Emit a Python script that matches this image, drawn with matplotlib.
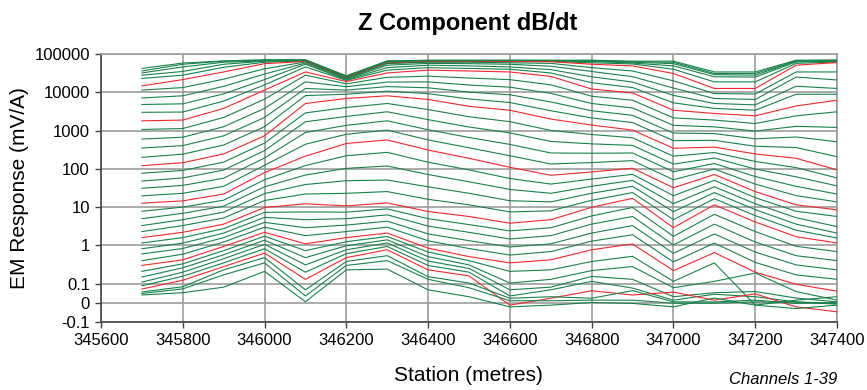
import matplotlib
matplotlib.use("Agg")

import matplotlib.pyplot as plt
from matplotlib.ticker import FixedLocator, FixedFormatter, NullLocator

plt.rcParams["font.family"] = ["Liberation Sans", "DejaVu Sans"]

# -----------------------------
# DATA  (EM response, mV/A, one list per channel)
# -----------------------------
stations = [345700, 345800, 345900, 346000, 346100, 346200, 346300, 346400, 346500,
            346600, 346700, 346800, 346900, 347000, 347100, 347200, 347300, 347400]

ch01 = [42000, 58000, 66000, 71000, 71000, 27000, 66000, 69000, 69000, 69000, 69000, 69000, 65000, 65000, 34000, 34000, 69000, 70000]
ch02 = [36000, 54000, 65000, 69000, 69000, 26000, 65000, 68000, 68000, 68000, 68000, 67000, 63000, 61000, 31000, 31000, 66000, 68000]
ch03 = [32000, 46000, 61000, 66000, 68000, 25800, 64000, 66000, 66000, 66000, 66000, 66000, 61000, 56000, 29000, 28000, 65000, 66000]
ch04 = [28000, 35000, 54000, 65000, 67000, 25200, 62000, 65000, 65000, 65000, 65000, 64000, 58000, 49000, 25500, 25000, 62000, 64000]
ch05 = [23000, 28000, 45000, 61000, 66000, 24400, 60000, 64000, 64000, 64000, 64000, 59000, 55000, 40000, 18700, 18700, 57000, 62000]
ch06 = [14700, 21500, 34000, 56000, 64000, 23700, 58000, 63000, 63000, 63000, 63000, 54000, 49000, 31000, 12600, 12600, 51000, 60000]
ch07 = [11400, 13300, 22000, 41000, 62000, 23000, 56000, 61000, 61000, 59000, 57000, 44000, 36000, 19900, 9300, 9000, 34000, 34000]
ch08 = [7100, 8100, 14300, 30000, 58000, 22200, 51000, 57000, 56000, 54000, 48000, 35000, 25600, 12900, 6900, 6500, 25000, 21000]
ch09 = [4800, 5000, 9100, 21500, 54000, 21300, 44000, 51000, 49000, 46000, 39000, 25500, 18500, 8300, 5100, 4700, 14400, 12600]
ch10 = [3000, 3050, 5900, 15600, 46000, 20400, 38000, 44000, 42000, 40000, 32000, 17800, 13300, 5300, 3800, 3400, 8900, 8900]
ch11 = [1800, 1880, 3800, 11400, 34000, 19100, 32000, 38000, 36000, 34000, 26000, 12200, 9600, 3400, 2800, 2430, 4400, 6200]
ch12 = [1070, 1130, 2200, 6600, 28000, 16700, 24600, 26400, 23600, 21400, 15700, 7900, 6200, 2150, 1880, 1530, 2430, 3100]
ch13 = [600, 670, 1260, 3800, 18700, 14000, 18500, 18700, 15500, 13600, 9400, 5100, 3900, 1370, 1250, 970, 1290, 1210]
ch14 = [350, 405, 730, 2200, 12600, 11400, 14100, 13100, 10100, 8600, 5600, 3300, 2500, 860, 835, 610, 680, 510]
ch15 = [200, 242, 420, 1260, 8200, 8900, 10700, 9200, 6700, 5400, 3300, 2140, 1620, 545, 555, 390, 360, 208]
ch16 = [121, 145, 245, 730, 5100, 6900, 8100, 6500, 4300, 3400, 2000, 1390, 1030, 345, 370, 245, 189, 94]
ch17 = [77, 91, 150, 470, 2900, 4000, 5100, 3540, 2300, 1710, 1010, 790, 650, 214, 267, 156, 108, 58]
ch18 = [48, 58, 93, 300, 1700, 2340, 3100, 1930, 1240, 870, 520, 450, 410, 133, 192, 99, 62, 36]
ch19 = [31, 37, 57, 193, 890, 1370, 1800, 1050, 660, 435, 260, 256, 260, 84, 138, 63, 35, 22]
ch20 = [19.7, 23, 35, 124, 440, 800, 1030, 570, 355, 220, 134, 146, 164, 52, 99, 40, 20, 13.7]
ch21 = [12.7, 14.6, 22, 80, 215, 460, 570, 310, 189, 110, 68, 83, 104, 32, 71, 25.5, 11.5, 8.5]
ch22 = [7.8, 10, 15.2, 52, 122, 220, 270, 149, 94, 56, 40, 54, 72, 19.9, 50, 17.7, 7.8, 5.7]
ch23 = [5.0, 6.9, 10.6, 34, 69, 103, 119, 71, 46, 29, 23, 35, 50, 12.3, 34, 12.3, 5.3, 3.1]
ch24 = [3.3, 4.7, 7.4, 22.6, 39, 49, 51, 34, 23, 14.7, 13.7, 23, 35, 7.6, 24, 8.6, 3.6, 2.1]
ch25 = [2.3, 3.3, 5.2, 14.9, 22, 23, 25.5, 16, 11.5, 7.5, 8.0, 15.1, 24, 4.7, 16.6, 6.0, 2.5, 1.56]
ch26 = [1.6, 2.2, 3.6, 9.8, 12.2, 10.8, 12.9, 7.7, 5.7, 3.8, 4.7, 9.9, 17, 2.9, 11.5, 4.1, 1.69, 1.16]
ch27 = [1.16, 1.6, 2.75, 7.3, 7.5, 7.4, 9.0, 5.0, 3.5, 2.4, 2.9, 5.9, 9.8, 1.73, 6.5, 2.3, 0.95, 0.69]
ch28 = [0.82, 1.15, 2.1, 5.4, 4.7, 5.0, 6.3, 3.2, 2.2, 1.47, 1.8, 3.6, 5.7, 1.03, 3.6, 1.23, 0.54, 0.40]
ch29 = [0.60, 0.83, 1.6, 4.0, 2.9, 3.4, 4.3, 2.0, 1.33, 0.91, 1.1, 2.1, 3.3, 0.62, 2.0, 0.67, 0.31, 0.23]
ch30 = [0.40, 0.59, 1.23, 3.0, 1.8, 2.3, 3.0, 1.32, 0.83, 0.56, 0.69, 1.29, 1.9, 0.37, 1.15, 0.36, 0.17, 0.13]
ch31 = [0.30, 0.42, 0.94, 2.2, 1.1, 1.6, 2.1, 0.85, 0.51, 0.35, 0.42, 0.77, 1.09, 0.22, 0.65, 0.20, 0.097, 0.061]
ch32 = [0.21, 0.33, 0.73, 1.74, 0.73, 1.25, 1.71, 0.67, 0.40, 0.21, 0.23, 0.38, 0.52, 0.115, 0.35, -0.012, 0.014, 0.032]
ch33 = [0.15, 0.26, 0.57, 1.37, 0.48, 0.98, 1.4, 0.51, 0.31, 0.104, 0.13, 0.22, 0.28, 0.079, 0.115, 0.19, 0.059, 0.014]
ch34 = [0.11, 0.20, 0.45, 1.07, 0.31, 0.77, 1.16, 0.39, 0.25, 0.068, 0.082, 0.155, 0.13, 0.032, 0.053, 0.059, 0.025, 0.005]
ch35 = [0.089, 0.157, 0.35, 0.82, 0.20, 0.61, 0.94, 0.30, 0.20, 0.036, 0.068, 0.115, 0.077, 0.014, 0.045, 0.032, 0.005, -0.003]
ch36 = [0.072, 0.123, 0.28, 0.63, 0.13, 0.48, 0.77, 0.23, 0.16, -0.012, 0.024, 0.063, 0.041, 0.056, 0.014, 0.047, -0.021, -0.047]
ch37 = [0.057, 0.084, 0.23, 0.48, 0.068, 0.38, 0.54, 0.153, 0.104, 0.024, 0.032, 0.024, 0.064, 0.005, 0.005, 0.014, -0.003, 0.001]
ch38 = [0.049, 0.073, 0.17, 0.35, 0.036, 0.30, 0.40, 0.13, 0.079, 0.011, 0.011, 0.014, 0.014, -0.002, -0.002, 0.005, 0.004, -0.007]
ch39 = [0.041, 0.053, 0.082, 0.21, 0.006, 0.23, 0.24, 0.068, 0.032, -0.021, -0.012, 0.002, -0.003, -0.021, 0.025, -0.012, -0.030, -0.012]

channels = [ch01, ch02, ch03, ch04, ch05, ch06, ch07, ch08, ch09, ch10,
            ch11, ch12, ch13, ch14, ch15, ch16, ch17, ch18, ch19, ch20,
            ch21, ch22, ch23, ch24, ch25, ch26, ch27, ch28, ch29, ch30,
            ch31, ch32, ch33, ch34, ch35, ch36, ch37, ch38, ch39]

# every fifth channel is drawn in red
red_channels = [6, 11, 16, 21, 26, 31, 36]

x_ticks = [345600, 345800, 346000, 346200, 346400, 346600, 346800, 347000, 347200, 347400]
y_ticks = [-0.1, 0, 0.1, 1, 10, 100, 1000, 10000, 100000]
y_tick_labels = ["-0.1", "0", "0.1", "1", "10", "100", "1000", "10000", "100000"]

# -----------------------------
# STYLE
# -----------------------------
GREEN = "#17834a"
RED   = "#f5262a"
GRID  = "#9c9c9c"
AXIS  = "#444444"

# -----------------------------
# PLOT
# -----------------------------
fig = plt.figure(figsize=(8.67, 3.9), dpi=100)
ax = fig.add_axes([0.1165, 0.1744, 0.8489, 0.6871])

for i, values in enumerate(channels, start=1):
    colour = RED if i in red_channels else GREEN
    ax.plot(stations, values, color=colour, linewidth=0.8, zorder=3)

ax.set_yscale("symlog", linthresh=0.1, linscale=0.45)
ax.set_ylim(-0.1, 100000)
ax.set_xlim(345600, 347400)

ax.yaxis.set_major_locator(FixedLocator(y_ticks))
ax.yaxis.set_major_formatter(FixedFormatter(y_tick_labels))
ax.yaxis.set_minor_locator(NullLocator())
ax.set_xticks(x_ticks)
ax.set_xticklabels([str(t) for t in x_ticks])
ax.xaxis.set_minor_locator(NullLocator())

ax.grid(True, color=GRID, linewidth=1.2)
ax.set_axisbelow(True)

for side in ["left", "bottom"]:
    ax.spines[side].set_color(AXIS)
    ax.spines[side].set_linewidth(1.2)
for side in ["top", "right"]:
    ax.spines[side].set_color(GRID)
    ax.spines[side].set_linewidth(1.2)

ax.tick_params(length=4, width=1, color=AXIS, labelsize=12, labelcolor="black", pad=4)

fig.text(0.54, 0.94, "Z Component dB/dt", fontsize=17, fontweight="bold",
         ha="center", va="center")
fig.text(0.022, 0.518, "EM Response (mV/A)", fontsize=15, rotation=90,
         ha="center", va="center")
fig.text(0.54, 0.038, "Station (metres)", fontsize=15, ha="center", va="center")
fig.text(0.9654, 0.028, "Channels 1-39", fontsize=12, style="italic",
         ha="right", va="center")

fig.savefig("out.png", dpi=100)
